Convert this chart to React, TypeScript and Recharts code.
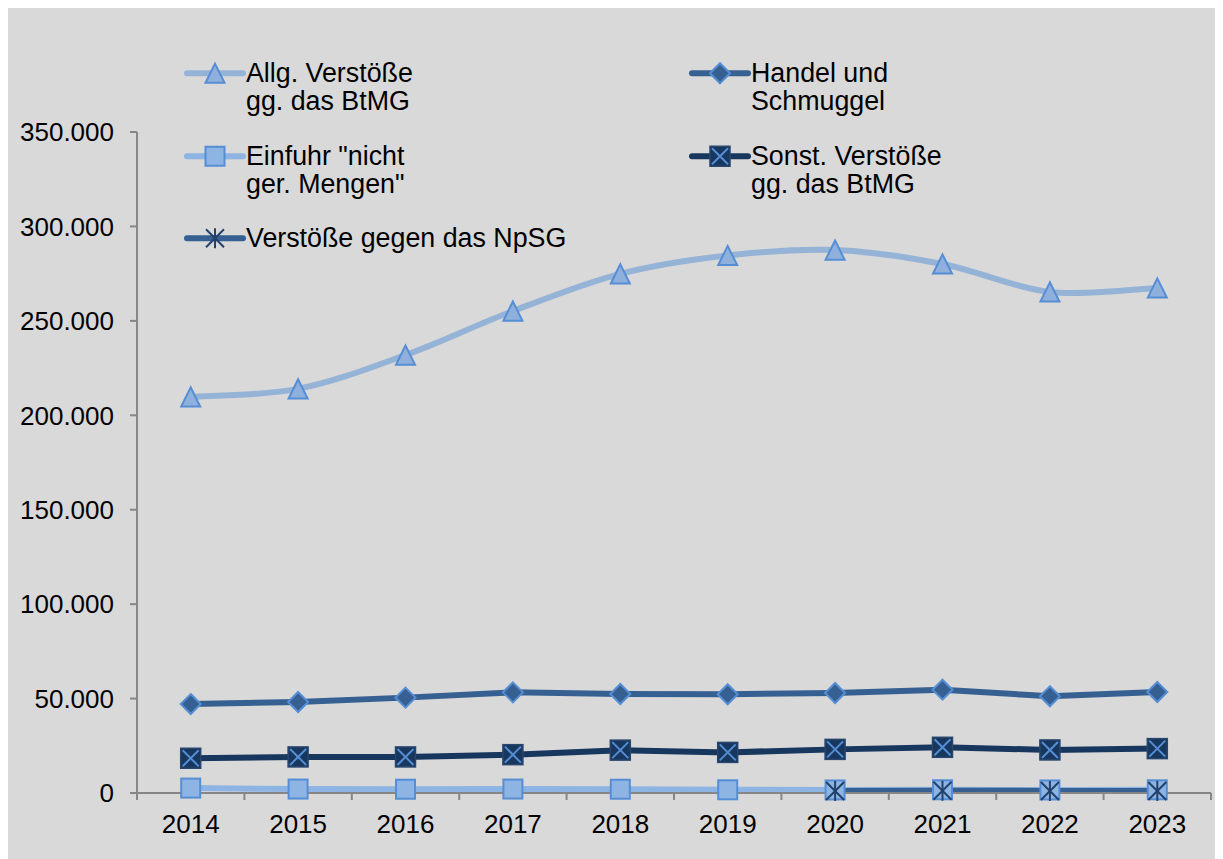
import React from 'react';
import { LineChart, Line, XAxis, YAxis, Legend } from 'recharts';

// ---- data ----
const years = ['2014', '2015', '2016', '2017', '2018', '2019', '2020', '2021', '2022', '2023'];
const allgVerstoesse = [209700, 214000, 231900, 255200, 274900, 284600, 287500, 280100, 265300, 267400];
const handelSchmuggel = [47100, 48200, 50500, 53300, 52400, 52300, 52950, 54700, 51200, 53500];
const einfuhrNichtGeringe = [2600, 2100, 2000, 2100, 2000, 1700, 1600, 1700, 1600, 1700];
const sonstVerstoesse = [18400, 19100, 19100, 20300, 22700, 21500, 23100, 24200, 22800, 23500];
const npsgVerstoesse: (number | null)[] = [null, null, null, null, null, null, 1100, 1200, 1100, 1100];
const yTicks = [0, 50000, 100000, 150000, 200000, 250000, 300000, 350000];
const legendLabels = {
  allg: ['Allg. Verstöße', 'gg. das BtMG'],
  handel: ['Handel und', 'Schmuggel'],
  einfuhr: ['Einfuhr "nicht', 'ger. Mengen"'],
  sonst: ['Sonst. Verstöße', 'gg. das BtMG'],
  npsg: ['Verstöße gegen das NpSG'],
};

const data = years.map((year, i) => ({
  idx: i,
  year,
  allg: allgVerstoesse[i],
  handel: handelSchmuggel[i],
  einfuhr: einfuhrNichtGeringe[i],
  sonst: sonstVerstoesse[i],
  npsg: npsgVerstoesse[i],
}));

const xTicks: number[] = [];
years.forEach((_, i) => {
  if (i === 0) xTicks.push(i - 0.5);
  xTicks.push(i);
  xTicks.push(i + 0.5);
});

// ---- styles ----
const FONT = '"Liberation Sans", Arial, sans-serif';
const AXIS = '#868686';
const C_ALLG = '#95b3d7';
const C_HANDEL = '#376092';
const C_EINFUHR = '#8db4e2';
const C_SONST = '#17375e';
const C_MARK = '#558ed5';

const fmt = (v: number) => String(v).replace(/\B(?=(\d{3})+(?!\d))/g, '.');

// Catmull-Rom style smoothing (similar to spreadsheet "smoothed line")
const smoothCurve = (context: any) => {
  let pts: [number, number][] = [];
  return {
    areaStart() {},
    areaEnd() {},
    lineStart() {
      pts = [];
    },
    point(x: number, y: number) {
      pts.push([+x, +y]);
    },
    lineEnd() {
      const n = pts.length;
      if (!n) return;
      context.moveTo(pts[0][0], pts[0][1]);
      for (let i = 0; i < n - 1; i++) {
        const p0 = pts[i - 1] || pts[i];
        const p1 = pts[i];
        const p2 = pts[i + 1];
        const p3 = pts[i + 2] || p2;
        context.bezierCurveTo(
          p1[0] + (p2[0] - p0[0]) / 6,
          p1[1] + (p2[1] - p0[1]) / 6,
          p2[0] - (p3[0] - p1[0]) / 6,
          p2[1] - (p3[1] - p1[1]) / 6,
          p2[0],
          p2[1]
        );
      }
    },
  };
};

type Shape = 'tri' | 'dia' | 'sq' | 'sqx' | 'star';

const marker = (shape: Shape, cx: number, cy: number, key?: string) => {
  if (shape === 'tri') {
    const h = 9.6, w = 9.5;
    return (
      <polygon key={key} points={`${cx},${cy - h} ${cx - w},${cy + h} ${cx + w},${cy + h}`}
        fill="#8fb0dc" stroke={C_MARK} strokeWidth={2} strokeLinejoin="miter" />
    );
  }
  if (shape === 'dia') {
    const r = 10;
    return (
      <polygon key={key} points={`${cx},${cy - r} ${cx + r},${cy} ${cx},${cy + r} ${cx - r},${cy}`}
        fill={C_HANDEL} stroke={C_MARK} strokeWidth={2} />
    );
  }
  if (shape === 'sq') {
    const r = 9.5;
    return (
      <rect key={key} x={cx - r} y={cy - r} width={2 * r} height={2 * r}
        fill={C_EINFUHR} stroke={C_MARK} strokeWidth={2} />
    );
  }
  if (shape === 'sqx') {
    const r = 10;
    return (
      <g key={key}>
        <rect x={cx - r} y={cy - r} width={2 * r} height={2 * r} fill={C_SONST} stroke="#29466e" strokeWidth={1.5} />
        <line x1={cx - r + 2} y1={cy - r + 2} x2={cx + r - 2} y2={cy + r - 2} stroke={C_MARK} strokeWidth={2} />
        <line x1={cx - r + 2} y1={cy + r - 2} x2={cx + r - 2} y2={cy - r + 2} stroke={C_MARK} strokeWidth={2} />
      </g>
    );
  }
  const r = 9;
  return (
    <g key={key}>
      <line x1={cx} y1={cy - r - 1} x2={cx} y2={cy + r + 1} stroke="#22416b" strokeWidth={2} />
      <line x1={cx - r} y1={cy - r} x2={cx + r} y2={cy + r} stroke="#22416b" strokeWidth={2} />
      <line x1={cx - r} y1={cy + r} x2={cx + r} y2={cy - r} stroke="#22416b" strokeWidth={2} />
    </g>
  );
};

const dotFor = (shape: Shape) => (props: any) => {
  const { cx, cy, index, dataKey } = props;
  const k = `${dataKey}-${index}`;
  if (cx == null || cy == null || props.value == null || (Array.isArray(props.value) && props.value[1] == null)) {
    return <g key={k} />;
  }
  return marker(shape, cx, cy, k);
};

const XTick = (props: any) => {
  const { x, y, payload } = props;
  const v = payload.value as number;
  if (Number.isInteger(v)) {
    return (
      <text x={x} y={y + 40} textAnchor="middle" fontSize={26} fontFamily={FONT} fill="#000">
        {years[v]}
      </text>
    );
  }
  return <line x1={x} x2={x} y1={y} y2={y + 7} stroke={AXIS} strokeWidth={2} />;
};

const legendItems: { key: keyof typeof legendLabels; color: string; shape: Shape; left: number; top: number }[] = [
  { key: 'allg', color: C_ALLG, shape: 'tri', left: 176, top: 50.75 },
  { key: 'handel', color: C_HANDEL, shape: 'dia', left: 681, top: 50.75 },
  { key: 'einfuhr', color: C_EINFUHR, shape: 'sq', left: 176, top: 133.75 },
  { key: 'sonst', color: C_SONST, shape: 'sqx', left: 681, top: 133.75 },
  { key: 'npsg', color: C_HANDEL, shape: 'star', left: 176, top: 215.75 },
];

const renderLegend = () => (
  <div style={{ position: 'relative', width: 1215, height: 0 }}>
    {legendItems.map((it) => (
      <div key={it.key} style={{ position: 'absolute', left: it.left, top: it.top, display: 'flex', alignItems: 'flex-start' }}>
        <svg width={62} height={28.5} style={{ overflow: 'visible', display: 'block' }}>
          <line x1={3} x2={59} y1={14.25} y2={14.25} stroke={it.color} strokeWidth={6} strokeLinecap="round" />
          {marker(it.shape, 31, 14.25)}
        </svg>
        <div style={{ fontSize: 26.8, lineHeight: '28.5px', fontFamily: FONT, color: '#000', whiteSpace: 'nowrap' }}>
          {legendLabels[it.key].map((l) => (
            <div key={l}>{l}</div>
          ))}
        </div>
      </div>
    ))}
  </div>
);

export default function App() {
  return (
    <div style={{ width: 1215, height: 851, background: '#d9d9d9', position: 'relative' }}>
      <style>{'html,body{overflow:hidden}'}</style>
      <LineChart width={1215} height={851} data={data} margin={{ top: 124, right: 12, bottom: 0, left: 0 }}>
        <XAxis
          dataKey="idx"
          type="number"
          domain={[-0.5, 9.5]}
          ticks={xTicks}
          interval={0}
          tick={<XTick />}
          tickLine={false}
          tickSize={0}
          tickMargin={0}
          height={66}
          axisLine={{ stroke: AXIS, strokeWidth: 2 }}
          allowDataOverflow
        />
        <YAxis
          type="number"
          domain={[0, 350000]}
          ticks={yTicks}
          interval={0}
          width={129}
          tickSize={7}
          tickMargin={16}
          tickFormatter={fmt}
          tick={{ fontSize: 26, fontFamily: FONT, fill: '#000' }}
          tickLine={{ stroke: AXIS, strokeWidth: 2 }}
          axisLine={{ stroke: AXIS, strokeWidth: 2 }}
        />
        <Legend
          content={renderLegend}
          layout="horizontal"
          verticalAlign="middle"
          align="center"
          wrapperStyle={{ left: 0, top: 0, width: 1215, height: 0 }}
        />
        <Line dataKey="allg" type={smoothCurve as any} stroke={C_ALLG} strokeWidth={6} dot={dotFor('tri')} isAnimationActive={false} activeDot={false} />
        <Line dataKey="handel" type="linear" stroke={C_HANDEL} strokeWidth={6} dot={dotFor('dia')} isAnimationActive={false} activeDot={false} />
        <Line dataKey="sonst" type="linear" stroke={C_SONST} strokeWidth={6} dot={dotFor('sqx')} isAnimationActive={false} activeDot={false} />
        <Line dataKey="einfuhr" type="linear" stroke={C_EINFUHR} strokeWidth={6} dot={dotFor('sq')} isAnimationActive={false} activeDot={false} />
        <Line dataKey="npsg" type="linear" stroke={C_HANDEL} strokeWidth={6} dot={dotFor('star')} isAnimationActive={false} activeDot={false} />
      </LineChart>
    </div>
  );
}
